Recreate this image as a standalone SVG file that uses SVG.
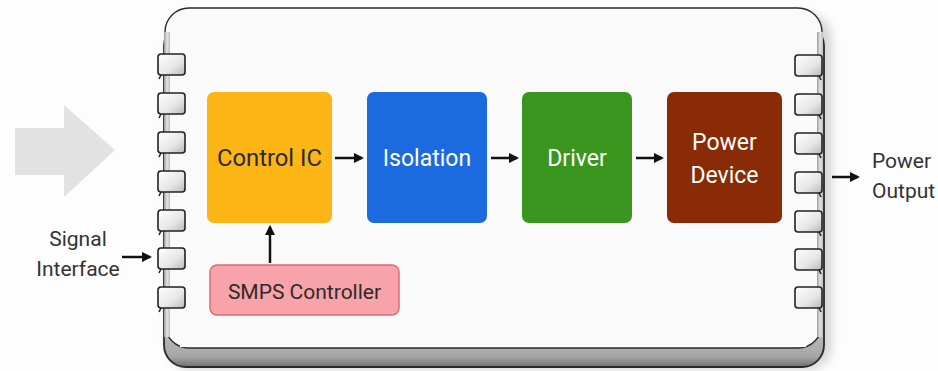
<svg xmlns="http://www.w3.org/2000/svg" xmlns:xlink="http://www.w3.org/1999/xlink" width="938" height="371" viewBox="0 0 938 371">
  <style>
    .lbl { font-family: Roboto, "Liberation Sans", sans-serif; }
    .dark { fill: #2b2b2b; }
    .light { fill: #ffffff; }
    .blk { font-size: 23px; }
    .side { fill: #333333; font-size: 21px; }
    .wire { stroke: #111111; stroke-width: 2.5; fill: none; }
  </style>
  <defs>
    <marker id="head" viewBox="0 0 10 10" refX="8" refY="5" markerWidth="4.2" markerHeight="4.2" orient="auto">
      <path d="M0,0 L10,5 L0,10 Z" fill="#111"/>
    </marker>
    <linearGradient id="pinFill" x1="0" y1="0" x2="1" y2="1">
      <stop offset="0" stop-color="#ffffff"/>
      <stop offset="0.6" stop-color="#e6e6e6"/>
      <stop offset="1" stop-color="#b8b8b8"/>
    </linearGradient>
    <linearGradient id="edgeBand" x1="0" y1="0" x2="0" y2="1">
      <stop offset="0" stop-color="#e2e2e2"/>
      <stop offset="0.88" stop-color="#dadada"/>
      <stop offset="0.92" stop-color="#b4b4b4"/>
      <stop offset="0.97" stop-color="#a6a6a6"/>
      <stop offset="1" stop-color="#707070"/>
    </linearGradient>
    <linearGradient id="spine" x1="0" y1="0" x2="1" y2="0">
      <stop offset="0" stop-color="#9a9a9a"/>
      <stop offset="0.5" stop-color="#e4e4e4"/>
      <stop offset="1" stop-color="#bdbdbd"/>
    </linearGradient>
    <filter id="soft" x="-10%" y="-10%" width="120%" height="120%">
      <feGaussianBlur stdDeviation="5"/>
    </filter>
    <!-- connector tab with a folded tail on the lower left -->
    <g id="pinL">
      <path d="M3,21 L1,25" stroke="#222" stroke-width="1.6" fill="none"/>
      <rect x="0" y="0" width="27" height="21" rx="3" fill="url(#pinFill)" stroke="#222" stroke-width="1.6"/>
    </g>
    <g id="pinR">
      <path d="M24,21 L26,25" stroke="#222" stroke-width="1.6" fill="none"/>
      <rect x="0" y="0" width="27" height="21" rx="3" fill="url(#pinFill)" stroke="#222" stroke-width="1.6"/>
    </g>
  </defs>

  <rect width="938" height="371" fill="#fdfdfd"/>

  <!-- large input arrow -->
  <path d="M15,128 L64,128 L64,105 L115,150 L64,197 L64,175 L15,175 Z" fill="#e2e2e2"/>

  <!-- board -->
  <g id="board">
    <rect x="168" y="14" width="664" height="356" rx="24" fill="#000" opacity="0.15" filter="url(#soft)"/>
    <rect x="164" y="24" width="660" height="343" rx="22" fill="url(#edgeBand)" stroke="#2a2a2a" stroke-width="1.8"/>
    <rect x="165" y="8" width="657" height="340" rx="24" fill="#fafafa" stroke="#2a2a2a" stroke-width="1.4"/>
    <line x1="180" y1="346" x2="806" y2="346" stroke="#ffffff" stroke-width="2"/>
    <rect x="164" y="32" width="6" height="305" fill="url(#spine)"/>
    <rect x="817" y="32" width="6" height="305" fill="url(#spine)"/>
  </g>

  <!-- connector tabs -->
  <g id="pins-left">
    <use xlink:href="#pinL" x="158" y="54"/>
    <use xlink:href="#pinL" x="158" y="93"/>
    <use xlink:href="#pinL" x="158" y="132"/>
    <use xlink:href="#pinL" x="158" y="171"/>
    <use xlink:href="#pinL" x="158" y="210"/>
    <use xlink:href="#pinL" x="158" y="248"/>
    <use xlink:href="#pinL" x="158" y="287"/>
  </g>
  <g id="pins-right">
    <use xlink:href="#pinR" x="795" y="55"/>
    <use xlink:href="#pinR" x="795" y="94"/>
    <use xlink:href="#pinR" x="795" y="133"/>
    <use xlink:href="#pinR" x="795" y="172"/>
    <use xlink:href="#pinR" x="795" y="211"/>
    <use xlink:href="#pinR" x="795" y="249"/>
    <use xlink:href="#pinR" x="795" y="287"/>
  </g>

  <!-- blocks -->
  <g id="control-ic">
    <rect x="207" y="92" width="125" height="131" rx="7" fill="#fdb515"/>
    <text class="lbl dark blk" x="269.5" y="166" text-anchor="middle" textLength="105" lengthAdjust="spacingAndGlyphs">Control IC</text>
  </g>
  <g id="isolation">
    <rect x="367" y="92" width="120" height="131" rx="7" fill="#1c6ae0"/>
    <text class="lbl light blk" x="427" y="166" text-anchor="middle">Isolation</text>
  </g>
  <g id="driver">
    <rect x="522" y="92" width="110" height="131" rx="7" fill="#3b961f"/>
    <text class="lbl light blk" x="577" y="166" text-anchor="middle">Driver</text>
  </g>
  <g id="power-device">
    <rect x="667" y="92" width="115" height="131" rx="7" fill="#8a2b08"/>
    <text class="lbl light blk" x="724.5" y="150" text-anchor="middle">Power</text>
    <text class="lbl light blk" x="724.5" y="183" text-anchor="middle">Device</text>
  </g>
  <g id="smps-controller">
    <rect x="210" y="265" width="189" height="50" rx="7" fill="#f7a3a9" stroke="#dc6b76" stroke-width="1.5"/>
    <text class="lbl dark" x="304.5" y="298.5" font-size="21" text-anchor="middle">SMPS Controller</text>
  </g>

  <!-- side labels -->
  <g id="signal-interface">
    <text class="lbl side" x="78" y="246" text-anchor="middle">Signal</text>
    <text class="lbl side" x="78" y="276" text-anchor="middle">Interface</text>
  </g>
  <g id="power-output">
    <text class="lbl side" x="872" y="168">Power</text>
    <text class="lbl side" x="872" y="198">Output</text>
  </g>

  <!-- connectors -->
  <g id="connectors">
    <line class="wire" x1="335" y1="158" x2="362" y2="158" marker-end="url(#head)"/>
    <line class="wire" x1="491" y1="158" x2="517" y2="158" marker-end="url(#head)"/>
    <line class="wire" x1="636" y1="158" x2="662" y2="158" marker-end="url(#head)"/>
    <line class="wire" x1="270" y1="263" x2="270" y2="227" marker-end="url(#head)"/>
    <line class="wire" x1="122" y1="257" x2="150" y2="257" marker-end="url(#head)"/>
    <line class="wire" x1="832" y1="177" x2="858" y2="177" marker-end="url(#head)"/>
  </g>
</svg>
